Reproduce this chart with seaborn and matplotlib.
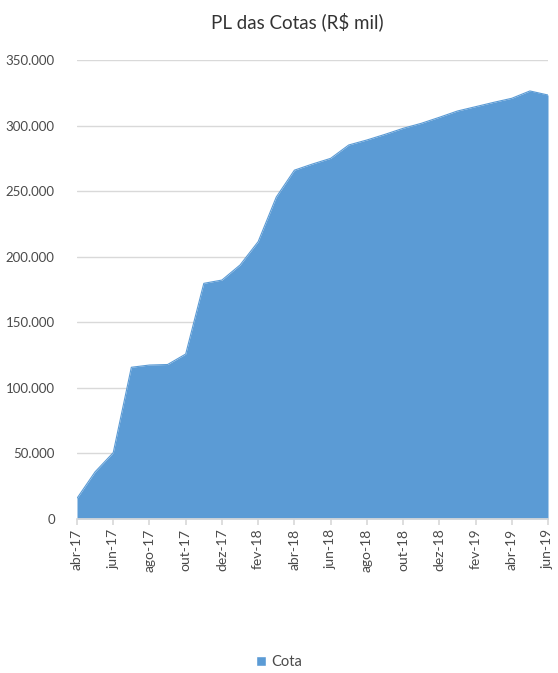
import matplotlib
matplotlib.use("Agg")
import matplotlib.pyplot as plt
import seaborn as sns
import pandas as pd
from matplotlib.ticker import FuncFormatter
from matplotlib.patches import Patch

months = ["abr-17", "mai-17", "jun-17", "jul-17", "ago-17", "set-17", "out-17", "nov-17",
          "dez-17", "jan-18", "fev-18", "mar-18", "abr-18", "mai-18", "jun-18", "jul-18",
          "ago-18", "set-18", "out-18", "nov-18", "dez-18", "jan-19", "fev-19", "mar-19",
          "abr-19", "mai-19", "jun-19"]
cota = [15800, 36000, 50600, 115700, 117400, 117800, 125800, 179700,
        182200, 193700, 211500, 245500, 266000, 270700, 275000, 285200,
        289000, 293300, 297900, 301700, 306300, 311100, 314400, 317700,
        320800, 326400, 323300]
yticks = [0, 50000, 100000, 150000, 200000, 250000, 300000, 350000]

sns.set_theme(style="white")
plt.rcParams['font.family'] = ['Lato', 'DejaVu Sans']

df = pd.DataFrame({"idx": range(len(months)), "mes": months, "Cota": cota})
color = "#5B9BD5"
text_color = "#4a4a4a"

fig = plt.figure(figsize=(5.58, 6.73), dpi=100)
ax = fig.add_axes([77/558, 1 - 519/673, (548 - 77)/558, (519 - 60)/673])

sns.lineplot(data=df, x="idx", y="Cota", ax=ax, color=color, linewidth=0.8)
ax.fill_between(df["idx"], 0, df["Cota"], color=color, linewidth=0)

ax.set_xlim(0, len(months) - 1)
ax.set_ylim(0, 350000)
ax.set_yticks(yticks)
ax.yaxis.set_major_formatter(FuncFormatter(lambda v, p: f"{int(v):,}".replace(",", ".")))
ax.set_xticks(df["idx"][::2])
ax.set_xticklabels(df["mes"][::2], rotation=90)
ax.grid(axis="y", color="#d9d9d9", linewidth=1)
ax.set_axisbelow(True)
for s in ["top", "right", "left"]:
    ax.spines[s].set_visible(False)
ax.spines["bottom"].set_color("#d9d9d9")
ax.tick_params(axis="x", bottom=True, length=4, color="#d9d9d9", labelsize=10,
               labelcolor=text_color, pad=3)
ax.tick_params(axis="y", left=False, labelsize=9.5, labelcolor=text_color, pad=10)
ax.set_xlabel("")
ax.set_ylabel("")

fig.text(297/558, 1 - 22/673, "PL das Cotas (R$ mil)", ha="center", va="center",
         fontsize=13.5, color="#333333")

fig.legend(handles=[Patch(facecolor=color, label="Cota")], loc="center",
           bbox_to_anchor=(0.5, 1 - 662/673), frameon=False, fontsize=10.5,
           handlelength=0.7, handleheight=0.7, handletextpad=0.4,
           labelcolor=text_color)

fig.savefig("out.png", dpi=100)
